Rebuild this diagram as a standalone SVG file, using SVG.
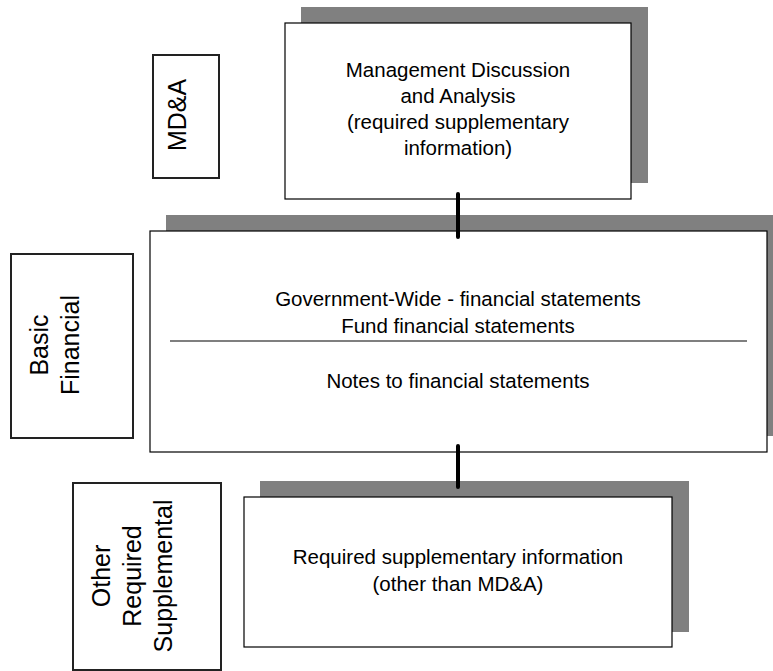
<svg xmlns="http://www.w3.org/2000/svg" width="773" height="671" viewBox="0 0 773 671">
<style>
.shadow{fill:#808080;stroke:none}
.box{fill:#fff;stroke:#000;stroke-width:1.2}
.label{fill:#fff;stroke:#222;stroke-width:2}
.t{font-family:"Liberation Sans",Arial,sans-serif;font-size:20.5px;fill:#000;text-anchor:middle}
.r{font-family:"Liberation Sans",Arial,sans-serif;font-size:25px;fill:#000;text-anchor:middle}
.conn{stroke:#000;stroke-width:4;stroke-linecap:round;fill:none}
</style>
<rect width="773" height="671" fill="#fff"/>
<g id="mda-label">
<rect class="label" x="153" y="55" width="66" height="123"/>
<text class="r" transform="translate(186,115) rotate(-90)">MD&amp;A</text>
</g>
<g id="mda">
<rect class="shadow" x="301" y="7" width="347" height="176"/>
<rect class="box" x="285" y="23" width="346" height="176"/>
<text class="t" x="458" y="77">Management Discussion</text>
<text class="t" x="458" y="103">and Analysis</text>
<text class="t" x="458" y="129">(required supplementary</text>
<text class="t" x="458" y="155">information)</text>
</g>
<g id="basic-label">
<rect class="label" x="11" y="254" width="122" height="184"/>
<text class="r" transform="translate(48,345) rotate(-90)">Basic</text>
<text class="r" transform="translate(79,345) rotate(-90)">Financial</text>
</g>
<g id="basic">
<rect class="shadow" x="166" y="215" width="617" height="221"/>
<rect class="box" x="150" y="231" width="617" height="221"/>
<text class="t" x="458" y="306">Government-Wide - financial statements</text>
<text class="t" x="458" y="333">Fund financial statements</text>
<line x1="170" y1="341" x2="747" y2="341" stroke="#555" stroke-width="1.5"/>
<text class="t" x="458" y="388">Notes to financial statements</text>
</g>
<g id="other-label">
<rect class="label" x="73" y="483" width="148" height="187"/>
<text class="r" transform="translate(110,576) rotate(-90)">Other</text>
<text class="r" transform="translate(141,576) rotate(-90)">Required</text>
<text class="r" transform="translate(172,576) rotate(-90)">Supplemental</text>
</g>
<g id="rsi">
<rect class="shadow" x="260" y="481" width="429" height="151"/>
<rect class="box" x="244" y="497" width="428" height="150"/>
<text class="t" x="458" y="564">Required supplementary information</text>
<text class="t" x="458" y="591">(other than MD&amp;A)</text>
</g>
<g id="connectors">
<line class="conn" x1="458" y1="194" x2="458" y2="237"/>
<line class="conn" x1="458" y1="446" x2="458" y2="487"/>
</g>
</svg>
